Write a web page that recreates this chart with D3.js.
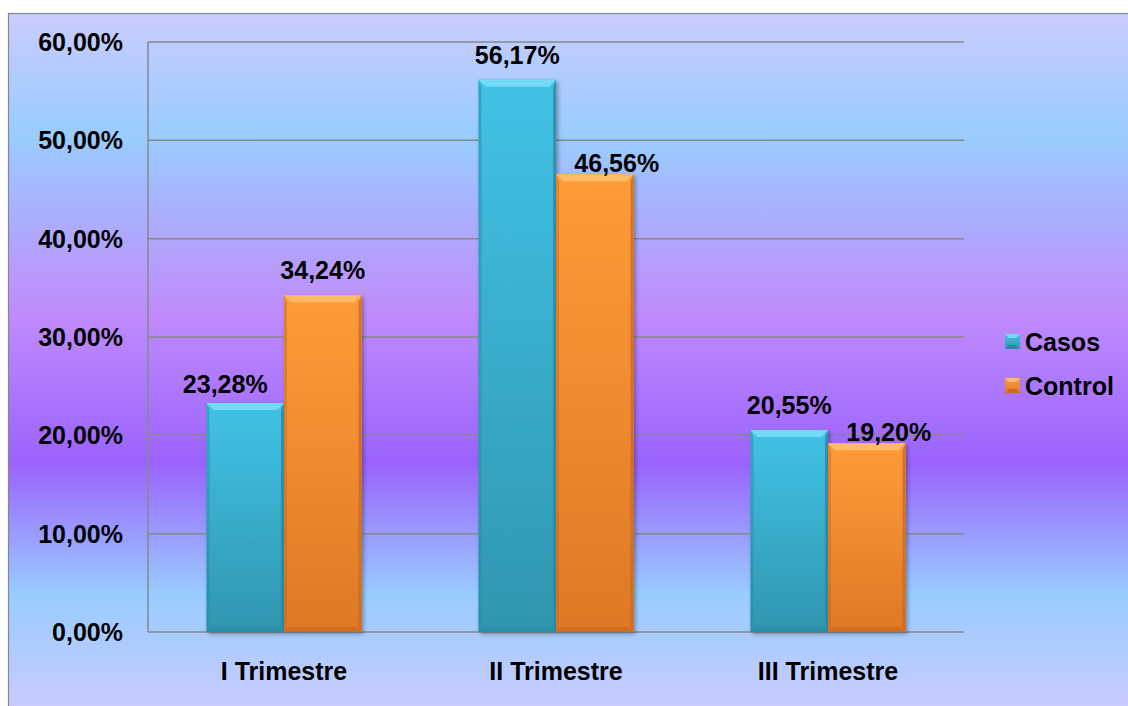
<!DOCTYPE html>
<html>
<head>
<meta charset="utf-8">
<script src="https://cdn.jsdelivr.net/npm/d3@7"></script>
<style>
  html, body { margin: 0; padding: 0; background: #fff; }
  svg { display: block; }
  text { font-family: "Liberation Sans", Arial, sans-serif; font-weight: bold; fill: #000; }
</style>
</head>
<body>
<div id="chart"></div>
<script>
// Data
const categories = ['I Trimestre', 'II Trimestre', 'III Trimestre'];
const seriesNames = ['Casos', 'Control'];
const casos = [23.28, 56.17, 20.55];
const control = [34.24, 46.56, 19.20];
const yTicks = [0, 10, 20, 30, 40, 50, 60];

const W = 1128, H = 706;
const plot = { left: 148, right: 964, top: 42, bottom: 632 };

const svg = d3.select('#chart').append('svg')
    .attr('width', W)
    .attr('height', H);

const defs = svg.append('defs');

// Background gradient (lavender - light blue - purple - light blue - lavender)
const bg = defs.append('linearGradient')
    .attr('id', 'bg')
    .attr('gradientUnits', 'userSpaceOnUse')
    .attr('x1', 0).attr('y1', 13).attr('x2', 0).attr('y2', 706);
[[0, '#caccff'], [0.18, '#99ccff'], [0.43, '#c08cfc'], [0.65, '#9a63fd'], [0.84, '#99ccff'], [1, '#c8cbff']]
    .forEach(s => bg.append('stop').attr('offset', s[0]).attr('stop-color', s[1]));

// Bar gradients
const barColors = {
    Casos: { top: '#42c2e6', bottom: '#2f96b0', bevel: '#72dcf6', side: '#2a8aa5' },
    Control: { top: '#ff9c38', bottom: '#de7826', bevel: '#ffbb66', side: '#c96a1e' }
};
seriesNames.forEach(name => {
    const g = defs.append('linearGradient')
        .attr('id', 'grad-' + name)
        .attr('x1', 0).attr('y1', 0).attr('x2', 0).attr('y2', 1);
    g.append('stop').attr('offset', 0).attr('stop-color', barColors[name].top);
    g.append('stop').attr('offset', 1).attr('stop-color', barColors[name].bottom);
});

const shadow = defs.append('filter')
    .attr('id', 'shadow')
    .attr('x', '-20%').attr('y', '-20%').attr('width', '140%').attr('height', '140%');
shadow.append('feDropShadow')
    .attr('dx', 2).attr('dy', 2).attr('stdDeviation', 2)
    .attr('flood-color', '#000').attr('flood-opacity', 0.35);

// Chart area background and border
svg.append('rect')
    .attr('x', 8.5).attr('y', 13.5)
    .attr('width', W).attr('height', H)
    .attr('fill', 'url(#bg)')
    .attr('stroke', '#888')
    .attr('stroke-width', 1.2);

// Scales - gap width 150% of one bar
const x0 = d3.scaleBand()
    .domain(categories)
    .range([plot.left, plot.right])
    .paddingInner(0.43)
    .paddingOuter(0.215);

const x1 = d3.scaleBand()
    .domain(seriesNames)
    .range([0, x0.bandwidth()]);

const y = d3.scaleLinear()
    .domain([0, 60])
    .range([plot.bottom, plot.top]);

const fmt = v => d3.format('.2f')(v).replace('.', ',') + '%';

// Gridlines
svg.append('g')
    .selectAll('line')
    .data(yTicks)
    .join('line')
    .attr('x1', plot.left).attr('x2', plot.right)
    .attr('y1', d => y(d)).attr('y2', d => y(d))
    .attr('stroke', '#888')
    .attr('stroke-width', 1.5);

// Y axis line
svg.append('line')
    .attr('x1', plot.left).attr('x2', plot.left)
    .attr('y1', y(60)).attr('y2', y(0))
    .attr('stroke', '#888')
    .attr('stroke-width', 1.5);

// Y tick labels
svg.append('g')
    .selectAll('text')
    .data(yTicks)
    .join('text')
    .attr('x', plot.left - 25)
    .attr('y', d => y(d))
    .attr('dy', '0.36em')
    .attr('text-anchor', 'end')
    .style('font-size', '25px')
    .text(d => fmt(d));

// Bars
const rows = categories.map((c, i) => ({ cat: c, values: [
    { name: 'Casos', value: casos[i] },
    { name: 'Control', value: control[i] }
]}));

const bevel = 7;
const groups = svg.append('g')
    .selectAll('g')
    .data(rows)
    .join('g')
    .attr('transform', d => `translate(${x0(d.cat)},0)`);

const bars = groups.selectAll('g.bar')
    .data(d => d.values)
    .join('g')
    .attr('class', 'bar');

bars.each(function(d) {
    const g = d3.select(this);
    const bx = x1(d.name), bw = x1.bandwidth();
    const top = y(d.value), bot = y(0);
    const c = barColors[d.name];
    g.append('rect')
        .attr('x', bx).attr('y', top)
        .attr('width', bw).attr('height', bot - top)
        .attr('fill', 'url(#grad-' + d.name + ')')
        .attr('filter', 'url(#shadow)');
    // top bevel
    g.append('polygon')
        .attr('points', [[bx, top], [bx + bw, top], [bx + bw - bevel, top + bevel], [bx + bevel, top + bevel]].join(' '))
        .attr('fill', c.bevel);
    // left / right sides
    g.append('polygon')
        .attr('points', [[bx, top], [bx + 3, top + bevel], [bx + 3, bot - 3], [bx, bot]].join(' '))
        .attr('fill', c.side).attr('opacity', 0.5);
    g.append('polygon')
        .attr('points', [[bx + bw, top], [bx + bw - 3, top + bevel], [bx + bw - 3, bot - 3], [bx + bw, bot]].join(' '))
        .attr('fill', c.side).attr('opacity', 0.8);
    // bottom bevel
    g.append('polygon')
        .attr('points', [[bx, bot], [bx + bw, bot], [bx + bw - 5, bot - 5], [bx + 5, bot - 5]].join(' '))
        .attr('fill', c.side).attr('opacity', 0.7);
});

// Value labels: the lower bar of each pair gets its label pushed outward (as Excel did)
rows.forEach((r, i) => {
    r.values.forEach(v => {
        const cx = x0(r.cat) + x1(v.name) + x1.bandwidth() / 2;
        const other = v.name === 'Casos' ? control[i] : casos[i];
        let lx = cx, ly = y(v.value) - 16;
        if (v.value < other) {
            if (v.name === 'Casos') { lx = cx - 20; ly = y(v.value) - 10; }
            else { lx = cx + 22; ly = y(v.value) - 2; }
        }
        svg.append('text')
            .attr('x', lx)
            .attr('y', ly)
            .attr('text-anchor', 'middle')
            .style('font-size', '25px')
            .text(fmt(v.value));
    });
});

// Category labels
svg.append('g')
    .selectAll('text')
    .data(categories)
    .join('text')
    .attr('x', d => x0(d) + x0.bandwidth() / 2)
    .attr('y', 680)
    .attr('text-anchor', 'middle')
    .style('font-size', '25px')
    .text(d => d);

// Legend
const legend = svg.append('g')
    .selectAll('g')
    .data(seriesNames)
    .join('g')
    .attr('transform', (d, i) => `translate(1005, ${334 + i * 44})`);

legend.append('rect')
    .attr('width', 15).attr('height', 15)
    .attr('fill', d => 'url(#grad-' + d + ')');
legend.append('polygon')
    .attr('points', '0,0 15,0 11,4 4,4')
    .attr('fill', d => barColors[d].bevel);
legend.append('polygon')
    .attr('points', '0,15 15,15 11,11 4,11')
    .attr('fill', d => barColors[d].side);
legend.append('text')
    .attr('x', 20)
    .attr('y', 7.5)
    .attr('dy', '0.36em')
    .style('font-size', '25px')
    .text(d => d);
</script>
</body>
</html>
